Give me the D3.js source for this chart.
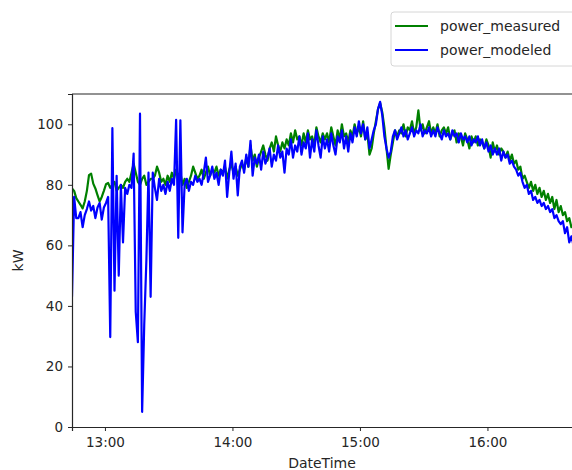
<!DOCTYPE html>
<html>
<head>
<meta charset="utf-8">
<script src="https://cdn.jsdelivr.net/npm/d3@7"></script>
<style>
  body { margin: 0; background: #fff; }
  svg { display: block; font-family: "DejaVu Sans", sans-serif; }
</style>
</head>
<body>
<div id="chart"></div>
<script>
// one reading per minute, first reading at 12:44:30
var startTime = new Date(2020, 0, 1, 12, 44, 30);
var seriesNames = ["power_measured", "power_modeled"];
var hourTicks = ["13:00", "14:00", "15:00", "16:00"];
var yTicks = [0, 20, 40, 60, 80, 100];

var powerMeasured = [
  78.8, 78, 75.6, 74.5, 73.4, 72.2, 74.5, 78, 83.2, 83.7,
  80.4, 78.8, 76.6, 74.5, 76, 78, 80.2, 80.6, 79, 80,
  81, 78, 79, 80, 79, 81, 82, 81, 84, 87,
  84, 81, 80, 82, 83, 80, 81, 82, 82, 83,
  86, 84, 81, 82, 80, 83, 81, 84, 82, 85,
  83, 84, 80, 82, 79, 81, 83, 86, 84, 82,
  83, 85, 82, 84, 86, 83, 85, 84, 86, 83,
  85, 84, 86, 82, 85, 87, 84, 86, 83, 85,
  87, 85, 89, 86, 93, 88, 90, 86, 89, 91,
  93, 90, 88, 92, 94, 91, 96, 93, 91, 94,
  92, 95, 93, 97, 94, 98, 95, 96, 93, 97,
  94, 98, 95, 96, 93, 99, 96, 94, 97, 95,
  97, 94, 99, 96, 93, 98, 95, 100, 96, 97,
  94, 98, 96, 100, 97, 99, 96, 101, 95, 97,
  90, 92, 97, 101, 105, 107, 104, 99, 92, 85.3,
  90, 94, 98, 96, 98, 97, 100, 96, 99, 98,
  101, 97, 99, 104.6, 98, 100, 97, 99, 101, 97,
  99, 97, 100, 96, 98, 99, 97, 99, 95, 97,
  98, 94, 97, 96, 93, 97, 95, 92, 96, 94,
  96, 93, 95, 94, 92, 95, 93, 89, 94, 91,
  93, 90, 92, 91, 89, 91, 88, 90, 87, 88,
  85, 86, 82, 83, 81, 79, 81, 78, 80, 77,
  79, 76, 78, 75, 77, 74, 76, 72, 75, 71,
  73, 70, 71, 68, 69, 66, 67, 64, 65, 63,
  62
];

var powerModeled = [
  43, 76, 69, 69, 71, 66, 70, 72, 74.5, 71.5,
  73, 69, 72.5, 74, 68.5, 72.5, 74, 76, 29.7, 98.7,
  45, 83, 50, 80, 61, 79, 77, 80, 79, 90.3,
  38, 28, 103.5, 5, 34, 55, 84, 43, 84, 79,
  75, 82, 78, 80, 77, 81, 78, 82, 80, 101.5,
  62.5, 101.3, 64.3, 80, 82, 78, 81, 80, 83, 81,
  82, 80, 84, 89, 81, 83, 86, 82, 84, 80,
  85, 83, 88, 76, 84, 91, 82, 87, 76.5, 86,
  88, 84, 90, 86, 94.5, 83, 89, 87, 90, 85,
  91, 87, 89, 92, 86, 90, 88, 93, 89, 91,
  84, 92, 90, 95, 89, 93, 91, 96, 90, 94,
  92, 97, 89, 95, 91, 98, 93, 89, 96, 92,
  95, 91, 97, 93, 90, 96, 94, 98, 92, 96,
  91, 97, 94, 99, 96, 101, 97, 100, 95, 99,
  92, 95, 98, 100, 105, 107.4, 103, 96, 92, 89,
  91, 96, 98, 95, 97, 99, 96, 98, 95, 97,
  99, 96, 98, 97, 100, 96, 98, 97, 99, 96,
  98, 96, 99, 97, 95, 98, 96, 97, 95, 98,
  96, 97, 94, 97, 95, 96, 94, 96, 93, 95,
  94, 96, 93, 95, 92, 94, 91, 93, 90, 92,
  90, 92, 88, 91, 89, 90, 87, 88, 86, 85,
  83, 84, 81, 79, 80, 77, 78, 75, 76, 74,
  75, 73, 74, 72, 73, 71, 72, 69, 70, 68,
  67, 68, 64, 66, 61, 63, 60, 62, 59, 60,
  58
];

var times = powerMeasured.map(function(d, i) {
  return new Date(startTime.getTime() + i * 60000);
});

var width = 572, height = 470;
var plotLeft = 72, plotTop = 94, plotBottom = 427;
var plotRight = plotLeft + (times.length - 1) * 2.125;   // right spine falls outside the picture

var svg = d3.select("#chart").append("svg")
  .attr("width", width)
  .attr("height", height)
  .style("overflow", "hidden");

var x = d3.scaleTime()
  .domain([times[0], times[times.length - 1]])
  .range([plotLeft, plotRight]);
var y = d3.scaleLinear()
  .domain([0, 110])
  .range([plotBottom, plotTop]);

svg.append("clipPath").attr("id", "plotclip")
.append("rect")
  .attr("x", plotLeft).attr("y", plotTop)
  .attr("width", plotRight - plotLeft).attr("height", plotBottom - plotTop);

var line = d3.line()
  .x(function(d, i) { return x(times[i]); })
  .y(function(d) { return y(d); });

var colors = ["#008000", "#0000ff"];
[powerMeasured, powerModeled].forEach(function(series, k) {
  svg.append("path")
    .datum(series)
    .attr("clip-path", "url(#plotclip)")
    .attr("fill", "none")
    .attr("stroke", colors[k])
    .attr("stroke-width", 2.2)
    .attr("stroke-linejoin", "round")
    .attr("d", line);
});

// axes
var hourDates = hourTicks.map(function(h) {
  var p = h.split(":");
  return new Date(2020, 0, 1, +p[0], +p[1]);
});
var xAxis = svg.append("g")
  .attr("transform", "translate(0," + plotBottom + ")")
  .call(d3.axisBottom(x).tickValues(hourDates).tickFormat(function(d, i) { return hourTicks[i]; })
    .tickSize(4).tickPadding(6));
var yAxis = svg.append("g")
  .attr("transform", "translate(" + plotLeft + ",0)")
  .call(d3.axisLeft(y).tickValues(yTicks).tickSize(4).tickPadding(5));

[xAxis, yAxis].forEach(function(a) {
  a.selectAll("text").attr("fill", "#262626").style("font-size", "13.5px").style("font-family", "DejaVu Sans");
  a.selectAll("line").attr("stroke", "#262626");
  a.select(".domain").attr("stroke", "#262626").attr("stroke-width", 1.2);
});

svg.append("line")
  .attr("x1", plotLeft).attr("x2", plotRight)
  .attr("y1", plotTop).attr("y2", plotTop)
  .attr("stroke", "#262626").attr("stroke-width", 1.2);

svg.append("text")
  .attr("x", 322)
  .attr("y", 468)
  .attr("text-anchor", "middle")
  .attr("fill", "#262626")
  .style("font-size", "14px")
  .text("DateTime");

svg.append("text")
  .attr("transform", "translate(23," + (plotTop + plotBottom) / 2 + ") rotate(-90)")
  .attr("text-anchor", "middle")
  .attr("fill", "#262626")
  .style("font-size", "14px")
  .text("kW");

// legend
var legend = svg.append("g").attr("transform", "translate(391,12)");
legend.append("rect")
  .attr("x", 0).attr("y", 0)
  .attr("width", 200).attr("height", 54)
  .attr("rx", 3)
  .attr("fill", "#fff")
  .attr("stroke", "#d6d6d6");
seriesNames.forEach(function(name, k) {
  var ly = 14 + k * 24;
  legend.append("line")
    .attr("x1", 4).attr("x2", 37)
    .attr("y1", ly).attr("y2", ly)
    .attr("stroke", colors[k]).attr("stroke-width", 2.2);
  legend.append("text")
    .attr("x", 49).attr("y", ly + 5)
    .attr("fill", "#262626")
    .style("font-size", "14px")
    .text(name);
});
</script>
</body>
</html>
